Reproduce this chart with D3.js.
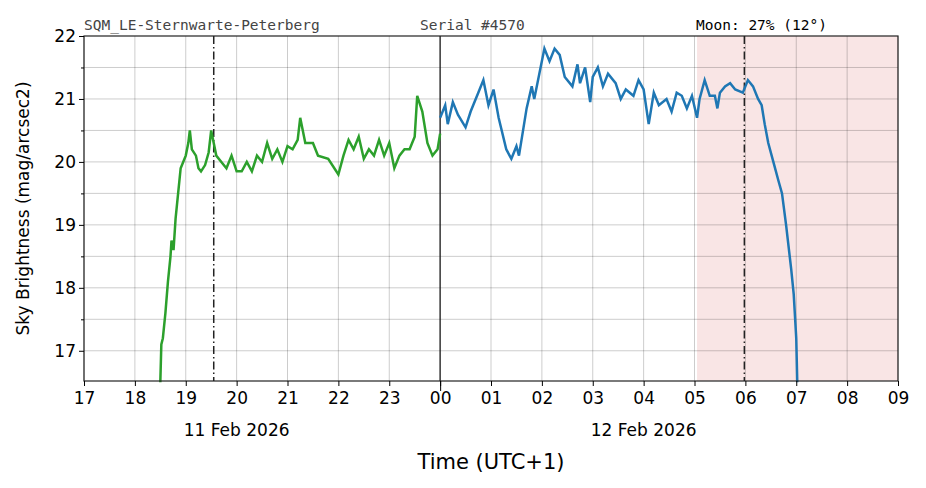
<!DOCTYPE html>
<html><head><meta charset="utf-8">
<script src="https://cdn.jsdelivr.net/npm/d3@7"></script>
<style>body{margin:0;background:#fff}text{font-family:"DejaVu Sans",sans-serif}text.mono{font-family:"DejaVu Sans Mono",monospace}</style>
</head><body><div id="chart"></div>
<script>
// hours since 00:00 on 11 Feb 2026
const greenT = [18.5,18.52,18.55,18.6,18.65,18.7,18.72,18.76,18.8,18.85,18.9,18.95,19.0,19.05,19.08,19.12,19.2,19.25,19.3,19.38,19.45,19.5,19.55,19.6,19.7,19.8,19.9,20.0,20.1,20.2,20.3,20.4,20.5,20.6,20.7,20.8,20.9,21.0,21.1,21.2,21.25,21.35,21.5,21.6,21.8,22.0,22.1,22.2,22.3,22.4,22.5,22.6,22.7,22.8,22.9,23.0,23.1,23.2,23.3,23.4,23.5,23.55,23.65,23.75,23.85,23.95,24.0];
const greenV = [16.5,17.1,17.2,17.6,18.1,18.5,18.75,18.6,19.1,19.5,19.9,20.0,20.1,20.3,20.5,20.2,20.1,19.9,19.85,19.95,20.15,20.5,20.3,20.1,20.0,19.9,20.1,19.85,19.85,20.0,19.85,20.1,20.0,20.3,20.05,20.2,20.0,20.25,20.2,20.35,20.7,20.3,20.3,20.1,20.05,19.8,20.1,20.35,20.2,20.4,20.05,20.2,20.1,20.35,20.1,20.3,19.9,20.1,20.2,20.2,20.4,21.05,20.8,20.3,20.1,20.2,20.45];
const blueT = [24.0,24.1,24.15,24.25,24.35,24.5,24.6,24.75,24.85,24.95,25.05,25.15,25.3,25.4,25.5,25.55,25.7,25.8,25.85,25.95,26.05,26.15,26.25,26.35,26.45,26.6,26.7,26.75,26.85,26.95,27.0,27.1,27.2,27.3,27.45,27.55,27.65,27.8,27.9,28.0,28.1,28.2,28.3,28.45,28.55,28.65,28.75,28.85,28.95,29.05,29.1,29.2,29.3,29.4,29.45,29.5,29.6,29.7,29.8,29.95,30.05,30.15,30.25,30.32,30.38,30.45,30.55,30.65,30.72,30.8,30.9,30.95,31.0,31.02];
const blueV = [20.7,20.9,20.6,20.95,20.75,20.55,20.8,21.1,21.3,20.9,21.15,20.7,20.2,20.05,20.25,20.1,20.85,21.2,21.0,21.4,21.8,21.6,21.8,21.7,21.35,21.2,21.55,21.25,21.5,20.95,21.35,21.5,21.2,21.4,21.25,21.0,21.15,21.05,21.3,21.15,20.6,21.1,20.9,21.0,20.8,21.1,21.05,20.85,21.05,20.7,21.0,21.3,21.05,21.05,20.85,21.1,21.2,21.25,21.15,21.1,21.3,21.2,21.0,20.9,20.6,20.3,20.0,19.7,19.5,19.0,18.3,17.9,17.2,16.5];
const hourTicks = d3.range(17, 34);
const hourLabels = ["17","18","19","20","21","22","23","00","01","02","03","04","05","06","07","08","09"];
const yTicks = [17, 18, 19, 20, 21, 22];
const dayLabels = [{t: 20, text: "11 Feb 2026"}, {t: 28, text: "12 Feb 2026"}];
const dashLines = [19.55, 29.98];
const shade = [29.05, 33];

const margin = {top: 36, right: 28, bottom: 107, left: 84};
const width = 926 - margin.left - margin.right;
const height = 488 - margin.top - margin.bottom;

const root = d3.select("#chart").append("svg").attr("width", 926).attr("height", 488);
const svg = root.append("g").attr("transform", `translate(${margin.left},${margin.top})`);

const x = d3.scaleLinear().domain([17, 33]).range([0, width]);
const y = d3.scaleLinear().domain([16.52, 22]).range([height, 0]);

svg.append("rect").attr("x", x(shade[0])).attr("width", x(shade[1]) - x(shade[0]))
  .attr("y", 0).attr("height", height).attr("fill", "#f9e5e5");

svg.append("g").selectAll("line").data(hourTicks).join("line")
  .attr("x1", d => x(d)).attr("x2", d => x(d)).attr("y1", 0).attr("y2", height)
  .attr("stroke", "#000").attr("stroke-opacity", 0.25).attr("stroke-width", 0.8);
svg.append("g").selectAll("line").data(d3.range(17, 22, 0.5)).join("line")
  .attr("x1", 0).attr("x2", width).attr("y1", d => y(d)).attr("y2", d => y(d))
  .attr("stroke", "#000").attr("stroke-opacity", 0.25).attr("stroke-width", 0.8);

svg.append("line").attr("x1", x(24)).attr("x2", x(24)).attr("y1", 0).attr("y2", height)
  .attr("stroke", "#222").attr("stroke-width", 1.3);
svg.selectAll(".dash").data(dashLines).join("line")
  .attr("x1", d => x(d)).attr("x2", d => x(d)).attr("y1", 0).attr("y2", height)
  .attr("stroke", "#222").attr("stroke-width", 1.5).attr("stroke-dasharray", "8,3,1.5,3");

const line = d3.line().x(d => x(d[0])).y(d => y(d[1]));
svg.append("path").datum(d3.zip(greenT, greenV)).attr("d", line)
  .attr("fill", "none").attr("stroke", "#2ca02c").attr("stroke-width", 2.5);
svg.append("path").datum(d3.zip(blueT, blueV)).attr("d", line)
  .attr("fill", "none").attr("stroke", "#1f77b4").attr("stroke-width", 2.5);

svg.append("rect").attr("width", width).attr("height", height)
  .attr("fill", "none").attr("stroke", "#222").attr("stroke-width", 1.2);

const xAxis = svg.append("g").attr("transform", `translate(0,${height})`)
  .call(d3.axisBottom(x).tickValues(hourTicks).tickFormat((d, i) => hourLabels[i]).tickSize(5));
xAxis.select(".domain").remove();
xAxis.selectAll("text").attr("font-size", 17).attr("dy", "0.9em");
svg.append("g").attr("transform", `translate(0,${height})`)
  .call(d3.axisBottom(x).tickValues([24]).tickFormat("").tickSize(10)).select(".domain").remove();

const yAxis = svg.append("g")
  .call(d3.axisLeft(y).tickValues(yTicks).tickFormat(d3.format("d")).tickSize(5));
yAxis.select(".domain").remove();
yAxis.selectAll("text").attr("font-size", 17);
svg.append("g").call(d3.axisLeft(y).tickValues(d3.range(17.5, 22, 1)).tickFormat("").tickSize(3))
  .select(".domain").remove();

svg.selectAll(".day").data(dayLabels).join("text")
  .attr("x", d => x(d.t)).attr("y", height + 55).attr("text-anchor", "middle")
  .attr("font-size", 17).text(d => d.text);

root.append("text").attr("x", margin.left + width / 2).attr("y", 469).attr("text-anchor", "middle")
  .attr("font-size", 21).text("Time (UTC+1)");
root.append("text").attr("transform", `translate(29,${margin.top + height / 2}) rotate(-90)`)
  .attr("text-anchor", "middle").attr("font-size", 17).text("Sky Brightness (mag/arcsec2)");

root.append("text").attr("class", "mono").attr("x", 84).attr("y", 30).attr("font-size", 14.5)
  .attr("fill", "#444").text("SQM_LE-Sternwarte-Peterberg");
root.append("text").attr("class", "mono").attr("x", 420).attr("y", 30).attr("font-size", 14.5)
  .attr("fill", "#444").text("Serial #4570");
root.append("text").attr("class", "mono").attr("x", 696).attr("y", 30).attr("font-size", 14.5)
  .attr("fill", "#000").text("Moon: 27% (12°)");
</script></body></html>
